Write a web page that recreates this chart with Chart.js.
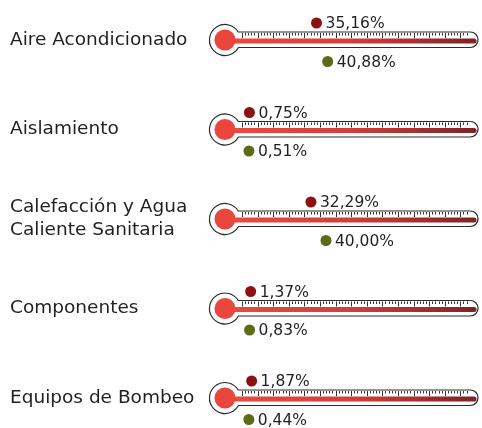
<!DOCTYPE html>
<html>
<head>
<meta charset="utf-8">
<script src="https://cdn.jsdelivr.net/npm/chart.js@4/dist/chart.umd.min.js"></script>
<style>
  body { margin: 0; background: #fff; }
</style>
</head>
<body>
<canvas id="thermoChart" width="482" height="428"></canvas>
<script>
const categories = ["Aire Acondicionado", "Aislamiento", ["Calefacción y Agua", "Caliente Sanitaria"], "Componentes", "Equipos de Bombeo"];
const redValues = [35.16, 0.75, 32.29, 1.37, 1.87];
const greenValues = [40.88, 0.51, 40.00, 0.83, 0.44];

const rowIdx = categories.map((_, i) => i);
const redOffset = -0.19, greenOffset = 0.24;
const tubeMax = 118;

const fmt = v => v.toFixed(2).replace(".", ",") + "%";

// draws the thermometers behind the dots
const thermoPlugin = {
  id: "thermo",
  beforeDatasetsDraw(chart) {
    const ctx = chart.ctx;
    const xs = chart.scales.x, ys = chart.scales.y;
    const x0 = xs.getPixelForValue(0);
    const xEnd = xs.getPixelForValue(tubeMax);
    rowIdx.forEach(i => {
      const cy = ys.getPixelForValue(i);
      const bx = x0 - 23;
      const top = cy - 8, bot = cy + 7.5, rr = (bot - top) / 2;
      // outline
      ctx.save();
      ctx.beginPath();
      const R = 15.5;
      const a = Math.asin(8 / R), b = Math.asin(7.5 / R);
      ctx.arc(bx, cy, R, -a, b, true);
      ctx.lineTo(xEnd - rr, bot);
      ctx.arc(xEnd - rr, cy - 0.25, rr, Math.PI / 2, -Math.PI / 2, true);
      ctx.closePath();
      ctx.fillStyle = "#fff";
      ctx.fill();
      ctx.strokeStyle = "#2b2b2b";
      ctx.lineWidth = 1.2;
      ctx.stroke();
      // ticks
      ctx.strokeStyle = "#333";
      ctx.lineWidth = 1;
      let n = 0;
      for (let v = 0; v <= tubeMax - 2; v += 1.6) {
        const tx = Math.round(xs.getPixelForValue(v) - 6) + 0.5;
        if (tx < bx + R + 1) { n++; continue; }
        ctx.beginPath();
        ctx.moveTo(tx, top + 1);
        ctx.lineTo(tx, top + (n % 5 === 0 ? 6 : 3.5));
        ctx.stroke();
        n++;
      }
      // red band
      const g = ctx.createLinearGradient(bx, 0, xEnd, 0);
      g.addColorStop(0, "#ec4a40");
      g.addColorStop(0.5, "#d23f3a");
      g.addColorStop(1, "#7c2226");
      ctx.fillStyle = g;
      ctx.beginPath();
      ctx.moveTo(bx, cy - 1.5);
      ctx.lineTo(xEnd - 4, cy - 1.5);
      ctx.arc(xEnd - 4, cy + 1, 2.5, -Math.PI / 2, Math.PI / 2);
      ctx.lineTo(bx, cy + 3.5);
      ctx.closePath();
      ctx.fill();
      ctx.fillStyle = "#ea463d";
      ctx.beginPath();
      ctx.arc(bx, cy, 10.5, 0, Math.PI * 2);
      ctx.fill();
      ctx.restore();
    });
  },
  afterDatasetsDraw(chart) {
    const ctx = chart.ctx;
    ctx.save();
    ctx.font = "15.5px 'DejaVu Sans'";
    ctx.fillStyle = "#231f20";
    ctx.textBaseline = "middle";
    ctx.textAlign = "left";
    chart.data.datasets.forEach((ds, d) => {
      chart.getDatasetMeta(d).data.forEach((pt, j) => {
        ctx.fillText(fmt(ds.data[j].x), pt.x + 9, pt.y + 1);
      });
    });
    ctx.restore();
  }
};

new Chart(document.getElementById("thermoChart"), {
  type: "scatter",
  data: {
    datasets: [{
      label: "red",
      data: redValues.map((v, i) => ({ x: v, y: i + redOffset })),
      backgroundColor: "#8c1212",
      borderWidth: 0,
      pointRadius: 5.5
    }, {
      label: "green",
      data: greenValues.map((v, i) => ({ x: v, y: i + greenOffset })),
      backgroundColor: "#5a6c16",
      borderWidth: 0,
      pointRadius: 5.5
    }]
  },
  options: {
    responsive: false,
    animation: false,
    layout: { autoPadding: false, padding: { left: 10, right: 2, top: 0, bottom: 0 } },
    plugins: { legend: { display: false }, tooltip: { enabled: false } },
    scales: {
      x: { type: "linear", min: -24.6, max: 119, display: false },
      y: {
        type: "linear",
        reverse: true,
        min: -0.447,
        max: 4.335,
        grid: { display: false },
        border: { display: false },
        afterBuildTicks: s => { s.ticks = rowIdx.map(v => ({ value: v })); },
        afterFit: s => { s.width = 190; s.paddingTop = 0; s.paddingBottom = 0; },
        ticks: {
          crossAlign: "far",
          padding: 0,
          color: "#231f20",
          font: { family: "'DejaVu Sans'", size: 18.5, lineHeight: 1.25 },
          callback: v => categories[v]
        }
      }
    }
  },
  plugins: [thermoPlugin]
});
</script>
</body>
</html>
